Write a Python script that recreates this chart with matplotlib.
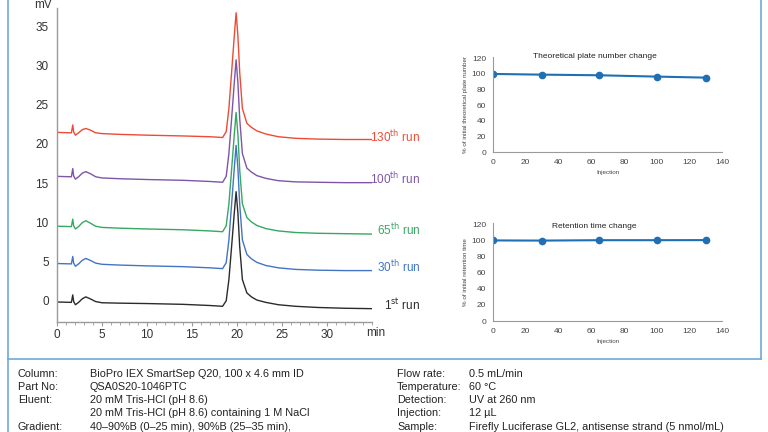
import matplotlib
matplotlib.use('Agg')
import matplotlib.pyplot as plt
from matplotlib.lines import Line2D
from matplotlib.ticker import MultipleLocator

plt.rcParams['font.family'] = ['Liberation Sans', 'DejaVu Sans']

# Chromatogram data (time in min, signal in mV, runs stacked as shown)
time_min = [0, 1.6, 1.75, 1.85, 2.05, 2.4, 2.8, 3.2, 3.7, 4.3, 5.0, 7.0, 10, 14, 17,
            18.4, 18.8, 19.1, 19.4, 19.7, 19.9, 20.1, 20.3, 20.6, 21.1, 21.6, 22.2,
            23.2, 24.6, 26.5, 29, 32, 35]
run_1 = [-0.15, -0.2, 0.75, -0.1, -0.5, -0.2, 0.25, 0.5, 0.25, -0.1, -0.25, -0.3, -0.35,
         -0.45, -0.6, -0.7, 0.0, 2.7, 6.9, 11.2, 13.9, 11.2, 6.9, 2.7, 1.0, 0.5, 0.1,
         -0.2, -0.5, -0.7, -0.85, -0.95, -1.0]
run_30 = [4.75, 4.7, 5.65, 4.8, 4.4, 4.7, 5.15, 5.4, 5.15, 4.8, 4.65, 4.55, 4.45,
          4.35, 4.2, 4.1, 4.85, 7.75, 12.3, 16.9, 19.8, 16.9, 12.3, 7.75, 5.9, 5.35, 4.9,
          4.5, 4.2, 4.0, 3.9, 3.85, 3.85]
run_65 = [9.5, 9.45, 10.4, 9.55, 9.15, 9.45, 9.95, 10.2, 9.9, 9.5, 9.35, 9.25, 9.15,
          9.05, 8.9, 8.8, 9.55, 12.35, 16.7, 21.2, 24.0, 21.2, 16.7, 12.35, 10.6, 10.05, 9.6,
          9.2, 8.9, 8.7, 8.6, 8.55, 8.5]
run_100 = [15.85, 15.8, 16.85, 15.9, 15.5, 15.8, 16.25, 16.45, 16.2, 15.8, 15.65, 15.55, 15.45,
           15.35, 15.2, 15.1, 15.85, 18.75, 23.2, 27.8, 30.7, 27.8, 23.2, 18.75, 16.9, 16.4, 15.95,
           15.6, 15.3, 15.15, 15.1, 15.05, 15.05]
run_130 = [21.45, 21.4, 22.4, 21.5, 21.1, 21.4, 21.8, 21.95, 21.75, 21.4, 21.3, 21.2, 21.1,
           21.0, 20.9, 20.8, 21.55, 24.5, 29.1, 33.75, 36.7, 33.75, 29.1, 24.5, 22.6, 22.1, 21.65,
           21.25, 20.9, 20.7, 20.6, 20.55, 20.55]
run_labels = ['1$^{\\mathrm{st}}$ run', '30$^{\\mathrm{th}}$ run', '65$^{\\mathrm{th}}$ run',
              '100$^{\\mathrm{th}}$ run', '130$^{\\mathrm{th}}$ run']
label_y = [-0.5, 4.3, 9.0, 15.5, 20.9]

# Stability data
injection = [0, 30, 65, 100, 130]
plate_pct = [100, 99.1, 98.3, 96.6, 95.3]
retention_pct = [100, 99.8, 100.3, 100.3, 100.4]

# Method conditions
left_keys = ['Column:', 'Part No:', 'Eluent:', '', 'Gradient:']
left_vals = ['BioPro IEX SmartSep Q20, 100 x 4.6 mm ID', 'QSA0S20-1046PTC',
             '20 mM Tris-HCl (pH 8.6)', '20 mM Tris-HCl (pH 8.6) containing 1 M NaCl',
             '40\u201390%B (0\u201325 min), 90%B (25\u201335 min),']
right_keys = ['Flow rate:', 'Temperature:', 'Detection:', 'Injection:', 'Sample:']
right_vals = ['0.5 mL/min', '60 \u00b0C', 'UV at 260 nm', '12 \u00b5L',
              'Firefly Luciferase GL2, antisense strand (5 nmol/mL)']

colors = ['#2b2b2b', '#4274c6', '#35a862', '#7e55a8', '#ee4b36']
W, H = 768, 432

fig = plt.figure(figsize=(7.68, 4.32), dpi=100)

# Main chromatogram
ax = fig.add_axes([57 / W, 1 - 322 / H, 315 / W, 314 / H])
runs = [run_1, run_30, run_65, run_100, run_130]
for vals, c, lab, ly in zip(runs, colors, run_labels, label_y):
    ax.plot(time_min, vals, color=c, lw=1.0)
    ax.text(40.4, ly, lab, color=c, fontsize=8.5, ha='right', va='center', clip_on=False)
ax.set_xlim(0, 35)
ax.set_ylim(-2.7, 37.3)
ax.set_xticks([0, 5, 10, 15, 20, 25, 30])
ax.set_yticks([0, 5, 10, 15, 20, 25, 30, 35])
ax.xaxis.set_minor_locator(MultipleLocator(1))
for s in ['top', 'right']:
    ax.spines[s].set_visible(False)
for s in ['left', 'bottom']:
    ax.spines[s].set_color('#9a9a9a')
    ax.spines[s].set_linewidth(1.0)
ax.tick_params(axis='x', which='major', length=3, color='#9a9a9a', labelsize=8.5,
               labelcolor='#333333', pad=2)
ax.tick_params(axis='x', which='minor', length=2, color='#9a9a9a')
ax.tick_params(axis='y', length=0, labelsize=8.5, labelcolor='#333333', pad=6)
ax.text(-0.045, 1.01, 'mV', transform=ax.transAxes, fontsize=8.5, color='#333333',
        ha='center', va='center')
ax.text(1.013, -0.035, 'min', transform=ax.transAxes, fontsize=8.5, color='#333333',
        ha='center', va='center')


def small_chart(rect, yvals, title, title_y, ylabel):
    a = fig.add_axes(rect)
    a.plot(injection, yvals, color='#1f6fb2', lw=1.5, marker='o', ms=4.5)
    a.set_xlim(0, 140)
    a.set_ylim(0, 122)
    a.set_xticks(range(0, 141, 20))
    a.set_yticks(range(0, 121, 20))
    for s in ['top', 'right']:
        a.spines[s].set_visible(False)
    for s in ['left', 'bottom']:
        a.spines[s].set_color('#9a9a9a')
        a.spines[s].set_linewidth(0.8)
    a.tick_params(length=0, labelsize=6, labelcolor='#444444', pad=5)
    a.text(62, title_y, title, fontsize=6, color='#222222', ha='center', va='center')
    a.set_xlabel('Injection', fontsize=4.5, color='#444444', labelpad=3)
    a.set_ylabel(ylabel, fontsize=4.5, color='#444444', labelpad=3)
    return a


small_chart([493 / W, 1 - 152.3 / H, 229 / W, 95.6 / H], plate_pct,
            'Theoretical plate number change', 122.5, '% of initial theoretical plate number')
small_chart([493 / W, 1 - 321 / H, 229 / W, 98.3 / H], retention_pct,
            'Retention time change', 117.5, '% of initial retention time')

# Frame lines
border = '#6fa8dc'
fig.add_artist(Line2D([8 / W, 8 / W], [0, 1], color=border, lw=1.2))
fig.add_artist(Line2D([761 / W, 761 / W], [1 - 359 / H, 1], color=border, lw=1.2))
fig.add_artist(Line2D([8 / W, 761 / W], [1 - 359 / H, 1 - 359 / H], color=border, lw=1.2))

# Conditions text
rows_y = [373.7, 387, 400.3, 413.5, 427]
for y, k, v in zip(rows_y, left_keys, left_vals):
    fig.text(18 / W, 1 - y / H, k, fontsize=7.8, color='#222222', va='center')
    fig.text(90 / W, 1 - y / H, v, fontsize=7.8, color='#222222', va='center')
for y, k, v in zip(rows_y, right_keys, right_vals):
    fig.text(397 / W, 1 - y / H, k, fontsize=7.8, color='#222222', va='center')
    fig.text(469 / W, 1 - y / H, v, fontsize=7.8, color='#222222', va='center')

fig.savefig('out.png', dpi=100)
